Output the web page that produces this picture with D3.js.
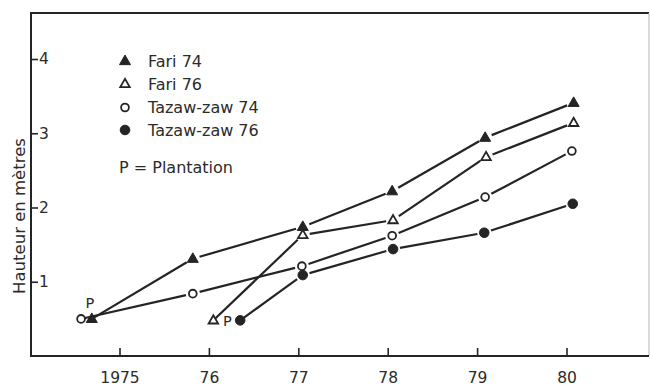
<!DOCTYPE html>
<html>
<head>
<meta charset="utf-8">
<script src="https://cdn.jsdelivr.net/npm/d3@7"></script>
<style>
  html, body { margin: 0; padding: 0; background: #fff; }
  svg { display: block; }
  text { font-family: "DejaVu Sans", sans-serif; fill: #2b2b2b; }
</style>
</head>
<body>
<svg id="chart" width="650" height="387"></svg>
<script>
// Height growth (m) of teak provenances, planted 1974 and 1976
const tickYears = [1975, 1976, 1977, 1978, 1979, 1980];
const tickLabels = ["1975", "76", "77", "78", "79", "80"];
const heightTicks = [1, 2, 3, 4];

const fari74Dates = [1974.69, 1975.82, 1977.05, 1978.05, 1979.09, 1980.08];
const fari74Heights = [0.50, 1.31, 1.74, 2.22, 2.94, 3.41];

const fari76Dates = [1976.05, 1977.05, 1978.06, 1979.10, 1980.08];
const fari76Heights = [0.48, 1.63, 1.83, 2.68, 3.14];

const tazaw74Dates = [1974.57, 1975.82, 1977.04, 1978.05, 1979.09, 1980.06];
const tazaw74Heights = [0.50, 0.84, 1.21, 1.62, 2.14, 2.76];

const tazaw76Dates = [1976.35, 1977.05, 1978.06, 1979.08, 1980.07];
const tazaw76Heights = [0.48, 1.09, 1.44, 1.66, 2.05];

const seriesNames = ["Fari 74", "Fari 76", "Tazaw-zaw 74", "Tazaw-zaw 76"];
const seriesSymbols = ["triFilled", "triOpen", "circOpen", "circFilled"];

const series = [
  { name: seriesNames[0], sym: seriesSymbols[0], dates: fari74Dates, heights: fari74Heights },
  { name: seriesNames[1], sym: seriesSymbols[1], dates: fari76Dates, heights: fari76Heights },
  { name: seriesNames[2], sym: seriesSymbols[2], dates: tazaw74Dates, heights: tazaw74Heights },
  { name: seriesNames[3], sym: seriesSymbols[3], dates: tazaw76Dates, heights: tazaw76Heights }
];

const ink = "#242424";
const svg = d3.select("#chart");

const x = d3.scaleLinear().domain([1975, 1980]).range([119.5, 566.5]);
const y = d3.scaleLinear().domain([0, 4]).range([356, 59]);

// Frame
svg.append("line").attr("x1", 31).attr("x2", 649).attr("y1", 13).attr("y2", 13)
  .attr("stroke", ink).attr("stroke-width", 2);
svg.append("line").attr("x1", 649).attr("x2", 649).attr("y1", 13).attr("y2", 356)
  .attr("stroke", "#b5b5b5").attr("stroke-width", 1);

// Bottom axis: ticks point inward, labels below
const xAxis = d3.axisBottom(x).tickValues(tickYears)
  .tickFormat((d, i) => tickLabels[i]).tickSize(0).tickPadding(0);
const gx = svg.append("g").attr("transform", `translate(0,${y(0)})`).call(xAxis);
gx.select(".domain").remove();
gx.selectAll(".tick text").attr("y", 27).attr("dy", 0)
  .style("font-size", "15.5px").attr("fill", ink);
gx.selectAll(".tick").append("line").attr("y1", 0).attr("y2", -8)
  .attr("stroke", ink).attr("stroke-width", 1.6);
svg.append("line").attr("x1", 30).attr("x2", 649).attr("y1", y(0)).attr("y2", y(0))
  .attr("stroke", ink).attr("stroke-width", 2);

// Left axis: ticks point inward, labels just right of each tick
const yAxis = d3.axisRight(y).tickValues(heightTicks).tickFormat(d3.format("d"))
  .tickSize(7).tickPadding(1);
const gy = svg.append("g").attr("transform", "translate(31,0)").call(yAxis);
gy.select(".domain").remove();
gy.selectAll(".tick line").attr("stroke", ink).attr("stroke-width", 1.6);
gy.selectAll(".tick text").style("font-size", "15.5px").attr("fill", ink);
svg.append("line").attr("x1", 31).attr("x2", 31).attr("y1", 12).attr("y2", 357)
  .attr("stroke", ink).attr("stroke-width", 2);

// Axis title
svg.append("text")
  .attr("transform", "translate(25,216) rotate(-90)")
  .attr("text-anchor", "middle")
  .style("font-size", "16.5px")
  .text("Hauteur en mètres");

// Marker drawing
function drawSymbol(g, sym, cx, cy) {
  if (sym === "triFilled" || sym === "triOpen") {
    const s = sym === "triFilled" ? 11 : 9.5;
    const h = s * 0.87;
    const pts = [[cx, cy - h * 0.62], [cx - s / 2, cy + h * 0.38], [cx + s / 2, cy + h * 0.38]];
    g.append("path").attr("d", d3.line()(pts) + "Z")
      .attr("fill", sym === "triFilled" ? ink : "#fff")
      .attr("stroke", ink).attr("stroke-width", sym === "triFilled" ? 1 : 1.8)
      .attr("stroke-linejoin", "miter");
  } else {
    const filled = sym === "circFilled";
    g.append("circle").attr("cx", cx).attr("cy", cy).attr("r", filled ? 4.8 : 3.9)
      .attr("fill", filled ? ink : "#fff")
      .attr("stroke", ink).attr("stroke-width", filled ? 1 : 1.8);
  }
}

// Connecting segments, stopped short of each marker
const gap = 7;
series.forEach(s => {
  const g = svg.append("g");
  for (let i = 0; i < s.dates.length - 1; i++) {
    const x1 = x(s.dates[i]), y1 = y(s.heights[i]);
    const x2 = x(s.dates[i + 1]), y2 = y(s.heights[i + 1]);
    const len = Math.hypot(x2 - x1, y2 - y1);
    const ux = (x2 - x1) / len, uy = (y2 - y1) / len;
    const startGap = i === 0 ? 3 : gap;
    g.append("line")
      .attr("x1", x1 + ux * startGap).attr("y1", y1 + uy * startGap)
      .attr("x2", x2 - ux * gap).attr("y2", y2 - uy * gap)
      .attr("stroke", ink).attr("stroke-width", 2.2);
  }
});
series.forEach(s => {
  const g = svg.append("g");
  s.dates.forEach((d, i) => drawSymbol(g, s.sym, x(d), y(s.heights[i])));
});

// Planting marks
svg.append("text").attr("x", x(fari74Dates[0]) - 2).attr("y", y(fari74Heights[0]) - 11)
  .attr("text-anchor", "middle").style("font-size", "14.5px").text("P");
svg.append("text").attr("x", (x(fari76Dates[0]) + x(tazaw76Dates[0])) / 2 + 0.5)
  .attr("y", y(tazaw76Heights[0]) + 6)
  .attr("text-anchor", "middle").style("font-size", "14.5px").text("P");

// Legend
const legendRows = [61, 84, 107.5, 130];
series.forEach((s, i) => {
  const g = svg.append("g");
  drawSymbol(g, s.sym, 125, legendRows[i]);
  g.append("text").attr("x", 148).attr("y", legendRows[i] + 5.5)
    .style("font-size", "16px").text(s.name);
});
svg.append("text").attr("x", 119).attr("y", 172.5)
  .style("font-size", "16px").text("P = Plantation");
</script>
</body>
</html>
